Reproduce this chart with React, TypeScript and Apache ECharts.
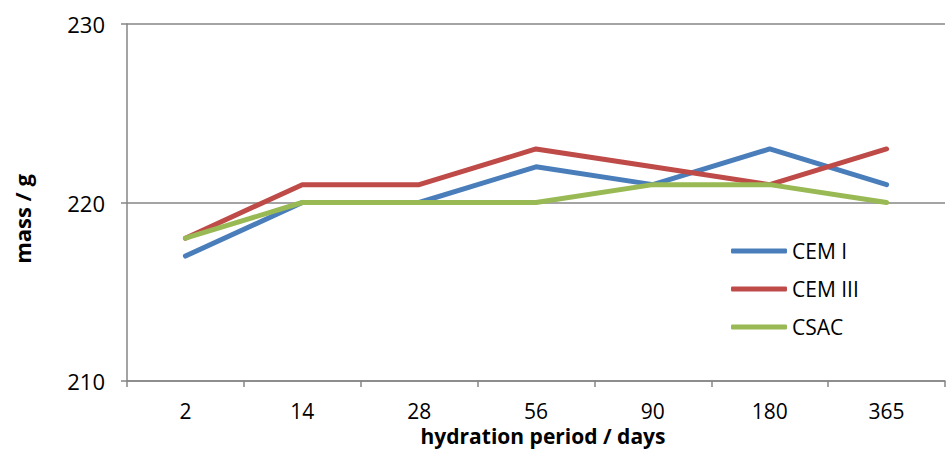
import React, { useEffect, useRef } from "react";
import * as echarts from "echarts";

const categories = ["2", "14", "28", "56", "90", "180", "365"];
const cem1 = [217, 220, 220, 222, 221, 223, 221];
const cem3 = [218, 221, 221, 223, 222, 221, 223];
const csac = [218, 220, 220, 220, 221, 221, 220];
const seriesNames = ["CEM I", "CEM III", "CSAC"];
const colors = ["#4A7EBB", "#BE4B48", "#98B954"];
const xTitle = "hydration period / days";
const yTitle = "mass / g";

const FONT = "'Open Sans', sans-serif";
const AXIS_COLOR = "#868686";

export default function App() {
  const ref = useRef<HTMLDivElement>(null);
  useEffect(() => {
    if (!ref.current) return;
    const chart = echarts.init(ref.current, null, { renderer: "svg" });
    const data = [cem1, cem3, csac];
    chart.setOption({
      animation: false,
      backgroundColor: "#ffffff",
      textStyle: { fontFamily: FONT, color: "#000" },
      grid: { left: 127, right: 6, top: 24, bottom: 74, containLabel: false },
      legend: {
        orient: "vertical",
        left: 731,
        top: 239,
        padding: 0,
        itemWidth: 56,
        itemHeight: 5,
        itemGap: 14,
        icon: "roundRect",
        textStyle: { fontFamily: FONT, fontSize: 21, color: "#000", lineHeight: 24 },
        data: seriesNames,
      },
      graphic: [
        {
          type: "text",
          x: 22,
          y: 219,
          rotation: Math.PI / 2,
          style: {
            text: yTitle,
            fontFamily: FONT,
            fontSize: 22,
            fontWeight: "bold",
            fill: "#000",
            align: "center",
            verticalAlign: "middle",
          },
        },
      ],
      xAxis: {
        type: "category",
        data: categories,
        boundaryGap: true,
        name: xTitle,
        nameLocation: "middle",
        nameGap: 42,
        nameTextStyle: { fontFamily: FONT, fontSize: 21, fontWeight: "bold", color: "#000", padding: [0, 0, 0, 14] },
        axisLine: { show: true, lineStyle: { color: AXIS_COLOR, width: 1.5 } },
        axisTick: { show: true, length: 6, alignWithLabel: false, lineStyle: { color: AXIS_COLOR, width: 1.5 } },
        axisLabel: { fontFamily: FONT, fontSize: 21, color: "#000", margin: 19 },
        splitLine: { show: false },
      },
      yAxis: {
        type: "value",
        min: 210,
        max: 230,
        interval: 10,
        axisLine: { show: true, lineStyle: { color: AXIS_COLOR, width: 1.5 } },
        axisTick: { show: true, length: 6, inside: false, lineStyle: { color: AXIS_COLOR, width: 1.5 } },
        axisLabel: { fontFamily: FONT, fontSize: 22, color: "#000", margin: 22 },
        splitLine: { show: true, lineStyle: { color: AXIS_COLOR, width: 1.5 } },
      },
      series: seriesNames.map((name, i) => ({
        name,
        type: "line",
        data: data[i],
        symbol: "none",
        showSymbol: false,
        color: colors[i],
        lineStyle: { color: colors[i], width: 5, cap: "round", join: "round" },
        itemStyle: { color: colors[i] },
        z: 2 + i,
      })),
    });
    return () => chart.dispose();
  }, []);
  return (
    <div
      ref={ref}
      style={{ position: "fixed", left: 0, top: 0, width: 951, height: 455, background: "#fff" }}
    />
  );
}
